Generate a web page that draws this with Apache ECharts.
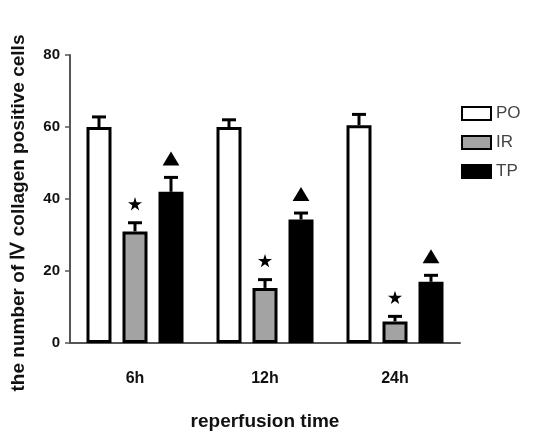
<!DOCTYPE html>
<html>
<head>
<meta charset="utf-8">
<script src="https://cdn.jsdelivr.net/npm/echarts@6/dist/echarts.min.js"></script>
<style>
  html, body { margin: 0; padding: 0; background: #fff; }
  #chart { width: 535px; height: 434px; }
</style>
</head>
<body>
<div id="chart"></div>
<script>
const categories = ["6h", "12h", "24h"];
const groups = ["PO", "IR", "TP"];
const poMean = [60, 60, 60.5];
const poErr = [2.8, 2, 3];
const irMean = [31, 15.3, 6];
const irErr = [2.4, 2.3, 1.4];
const tpMean = [42, 34.3, 17];
const tpErr = [4, 1.8, 1.8];
// markers above the error bars: star = IR vs PO, triangle = TP vs IR
const irMark = [1, 1, 1];
const tpMark = [1, 1, 1];

const fills = { PO: "#ffffff", IR: "#a3a3a3", TP: "#000000" };
const offsets = { PO: -36, IR: 0, TP: 36 };
const font = "Liberation Sans, Arial, sans-serif";

const starPath = "M50,0 L61,35 L98,35 L68,57 L79,91 L50,70 L21,91 L32,57 L2,35 L39,35 Z";

const myChart = echarts.init(document.getElementById("chart"));

function barSeries(name, values) {
  return {
    name: name,
    type: "bar",
    data: values,
    barWidth: 25,
    barGap: "44%",
    itemStyle: { color: fills[name], borderColor: "#000", borderWidth: 3 },
    z: 2,
  };
}

function errSeries(name, means, errs) {
  return {
    name: name + "err",
    type: "custom",
    data: means.map((m, i) => [i, m, m + errs[i]]),
    z: 3,
    renderItem: function (params, api) {
      const base = api.coord([api.value(0), api.value(1)]);
      const top = api.coord([api.value(0), api.value(2)]);
      const x = base[0] + offsets[name];
      return {
        type: "group",
        children: [
          { type: "line", shape: { x1: x, y1: base[1], x2: x, y2: top[1] }, style: { stroke: "#000", lineWidth: 3 } },
          { type: "line", shape: { x1: x - 7, y1: top[1], x2: x + 7, y2: top[1] }, style: { stroke: "#000", lineWidth: 3 } },
        ],
      };
    },
  };
}

function markSeries(name, means, errs, flags, symbol, size) {
  return {
    name: name + "mark",
    type: "custom",
    data: means.map((m, i) => [i, m + errs[i], flags[i]]),
    z: 4,
    renderItem: function (params, api) {
      if (!api.value(2)) return null;
      const top = api.coord([api.value(0), api.value(1)]);
      const x = top[0] + offsets[name];
      const y = top[1] - 19;
      if (symbol === "triangle") {
        return {
          type: "polygon",
          shape: { points: [[x, y - size / 2], [x + size * 0.6, y + size / 2], [x - size * 0.6, y + size / 2]] },
          style: { fill: "#000" },
        };
      }
      return {
        type: "path",
        shape: { pathData: starPath, x: x - size / 2, y: y - size / 2, width: size, height: size },
        style: { fill: "#000" },
      };
    },
  };
}

myChart.setOption({
  animation: false,
  grid: { left: 70, right: 75, top: 55, bottom: 91, containLabel: false, outerBoundsMode: "none" },
  legend: {
    data: groups,
    orient: "vertical",
    left: 456,
    top: 100,
    itemWidth: 29,
    itemHeight: 13,
    itemGap: 12,
    icon: "rect",
    textStyle: { fontFamily: font, fontSize: 17, color: "#444" },
  },
  xAxis: {
    type: "category",
    data: categories,
    name: "reperfusion time",
    nameLocation: "middle",
    nameGap: 69,
    nameTextStyle: { fontFamily: font, fontSize: 19, fontWeight: "bold", color: "#111" },
    axisLine: { lineStyle: { color: "#555", width: 2 } },
    axisTick: { alignWithLabel: true, length: 5, lineStyle: { color: "#555", width: 1.5 } },
    axisLabel: { fontFamily: font, fontSize: 16, fontWeight: "bold", color: "#111", margin: 28 },
  },
  yAxis: {
    type: "value",
    min: 0,
    max: 80,
    interval: 20,
    splitLine: { show: false },
    axisLine: { show: true, lineStyle: { color: "#555", width: 2 } },
    axisTick: { show: true, length: 5, lineStyle: { color: "#555", width: 1.5 } },
    axisLabel: { fontFamily: font, fontSize: 15, fontWeight: "bold", color: "#111", margin: 10 },
  },
  graphic: [
    {
      type: "text",
      x: 19,
      y: 213,
      rotation: Math.PI / 2,
      style: {
        text: "the number of Ⅳ collagen positive cells",
        font: "bold 19px " + font,
        fill: "#111",
        align: "center",
        verticalAlign: "middle",
      },
    },
  ],
  series: [
    barSeries("PO", poMean),
    barSeries("IR", irMean),
    barSeries("TP", tpMean),
    errSeries("PO", poMean, poErr),
    errSeries("IR", irMean, irErr),
    errSeries("TP", tpMean, tpErr),
    markSeries("IR", irMean, irErr, irMark, "star", 14),
    markSeries("TP", tpMean, tpErr, tpMark, "triangle", 14),
  ],
});
</script>
</body>
</html>
